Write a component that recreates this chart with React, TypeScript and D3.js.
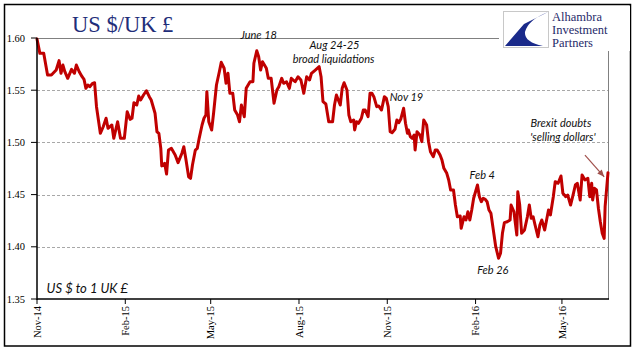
import React from "react";
import * as d3 from "d3";

const dates: string[] = [
  "2014-11-01","2014-11-04","2014-11-08","2014-11-12","2014-11-16","2014-11-21","2014-11-24","2014-11-26","2014-11-28","2014-11-30",
  "2014-12-03","2014-12-07","2014-12-10","2014-12-12","2014-12-15","2014-12-18","2014-12-20","2014-12-22","2014-12-24","2014-12-26",
  "2014-12-29","2014-12-31","2015-01-02","2015-01-04","2015-01-06","2015-01-09","2015-01-12","2015-01-14","2015-01-18","2015-01-20",
  "2015-01-24","2015-01-27","2015-01-31","2015-02-03","2015-02-06","2015-02-08","2015-02-10","2015-02-13","2015-02-15","2015-02-17",
  "2015-02-20","2015-02-23","2015-02-26","2015-02-28","2015-03-04","2015-03-06","2015-03-08","2015-03-10","2015-03-11","2015-03-14",
  "2015-03-16","2015-03-18","2015-03-21","2015-03-25","2015-03-28","2015-04-01","2015-04-03","2015-04-05","2015-04-08","2015-04-10",
  "2015-04-12","2015-04-15","2015-04-17","2015-04-19","2015-04-22","2015-04-24","2015-04-26","2015-04-27","2015-04-29","2015-05-02",
  "2015-05-04","2015-05-07","2015-05-10","2015-05-12","2015-05-15","2015-05-17","2015-05-19","2015-05-21","2015-05-24","2015-05-26",
  "2015-05-29","2015-05-31","2015-06-02","2015-06-05","2015-06-07","2015-06-11","2015-06-14","2015-06-15","2015-06-18","2015-06-20",
  "2015-06-22","2015-06-24","2015-06-28","2015-06-30","2015-07-03","2015-07-06","2015-07-09","2015-07-11","2015-07-14","2015-07-16",
  "2015-07-19","2015-07-22","2015-07-24","2015-07-28","2015-07-31","2015-08-03","2015-08-06","2015-08-09","2015-08-12","2015-08-14",
  "2015-08-18","2015-08-22","2015-08-24","2015-08-26","2015-08-29","2015-09-01","2015-09-05","2015-09-07","2015-09-09","2015-09-11",
  "2015-09-13","2015-09-15","2015-09-17","2015-09-20","2015-09-22","2015-09-24","2015-09-27","2015-09-28","2015-09-30","2015-10-02",
  "2015-10-05","2015-10-07","2015-10-09","2015-10-12","2015-10-14","2015-10-16","2015-10-18","2015-10-21","2015-10-23","2015-10-26",
  "2015-10-29","2015-10-31","2015-11-02","2015-11-04","2015-11-06","2015-11-09","2015-11-11","2015-11-13","2015-11-15","2015-11-18",
  "2015-11-20","2015-11-22","2015-11-23","2015-11-25","2015-11-27","2015-11-29","2015-11-30","2015-12-02","2015-12-05","2015-12-07",
  "2015-12-09","2015-12-12","2015-12-14","2015-12-16","2015-12-19","2015-12-21","2015-12-23","2015-12-26","2015-12-28","2015-12-30",
  "2016-01-02","2016-01-04","2016-01-06","2016-01-09","2016-01-11","2016-01-13","2016-01-16","2016-01-17","2016-01-20","2016-01-22",
  "2016-01-24","2016-01-26","2016-01-28","2016-01-30","2016-02-03","2016-02-05","2016-02-07","2016-02-09","2016-02-11","2016-02-13",
  "2016-02-15","2016-02-17","2016-02-19","2016-02-22","2016-02-25","2016-02-27","2016-02-29","2016-03-02","2016-03-05","2016-03-08",
  "2016-03-09","2016-03-12","2016-03-15","2016-03-16","2016-03-18","2016-03-20","2016-03-23","2016-03-26","2016-03-28","2016-03-30",
  "2016-04-01","2016-04-03","2016-04-06","2016-04-08","2016-04-10","2016-04-13","2016-04-15","2016-04-17","2016-04-19","2016-04-22",
  "2016-04-24","2016-04-27","2016-04-30","2016-05-02","2016-05-05","2016-05-07","2016-05-10","2016-05-13","2016-05-15","2016-05-17",
  "2016-05-20","2016-05-22","2016-05-25","2016-05-28","2016-05-30","2016-06-01","2016-06-02","2016-06-04","2016-06-06","2016-06-08",
  "2016-06-10","2016-06-12","2016-06-14","2016-06-15","2016-06-18"
];

const rates: number[] = [
  1.5990,1.5853,1.5853,1.5646,1.5646,1.5693,1.5783,1.5662,1.5741,1.5677,
  1.5614,1.5700,1.5662,1.5741,1.5677,1.5629,1.5604,1.5518,1.5550,1.5534,
  1.5566,1.5572,1.5342,1.5215,1.5087,1.5150,1.5231,1.5135,1.5167,1.5039,
  1.5198,1.5039,1.5039,1.5294,1.5221,1.5231,1.5380,1.5358,1.5444,1.5406,
  1.5454,1.5495,1.5438,1.5406,1.5279,1.5102,1.5087,1.4943,1.4774,1.4800,
  1.4697,1.4927,1.4943,1.4879,1.4806,1.4896,1.4959,1.4848,1.4671,1.4656,
  1.4784,1.4927,1.4943,1.5039,1.5167,1.5231,1.5262,1.5486,1.5198,1.5119,
  1.5279,1.5550,1.5677,1.5767,1.5710,1.5566,1.5662,1.5470,1.5470,1.5310,
  1.5262,1.5198,1.5358,1.5246,1.5518,1.5581,1.5581,1.5758,1.5878,1.5821,
  1.5693,1.5773,1.5710,1.5614,1.5614,1.5375,1.5502,1.5534,1.5614,1.5566,
  1.5581,1.5518,1.5614,1.5581,1.5629,1.5598,1.5470,1.5629,1.5598,1.5662,
  1.5693,1.5725,1.5629,1.5390,1.5368,1.5198,1.5198,1.5358,1.5454,1.5406,
  1.5358,1.5518,1.5572,1.5502,1.5262,1.5198,1.5215,1.5119,1.5198,1.5183,
  1.5231,1.5310,1.5310,1.5246,1.5470,1.5470,1.5438,1.5342,1.5349,1.5310,
  1.5438,1.5422,1.5342,1.5102,1.5093,1.5125,1.5215,1.5189,1.5221,1.5327,
  1.5183,1.5087,1.5119,1.5055,1.5039,1.5071,1.4927,1.5102,1.5071,1.5007,
  1.5215,1.5167,1.5007,1.4911,1.4863,1.4927,1.4927,1.4879,1.4831,1.4752,
  1.4704,1.4640,1.4544,1.4544,1.4400,1.4288,1.4295,1.4177,1.4288,1.4257,
  1.4336,1.4257,1.4352,1.4465,1.4592,1.4480,1.4432,1.4465,1.4455,1.4432,
  1.4352,1.4321,1.4193,1.4001,1.3890,1.3938,1.4129,1.4231,1.4240,1.4257,
  1.4400,1.4336,1.4113,1.4528,1.4400,1.4129,1.4161,1.4288,1.4400,1.4273,
  1.4288,1.4209,1.4097,1.4209,1.4257,1.4161,1.4257,1.4352,1.4305,1.4480,
  1.4624,1.4608,1.4678,1.4512,1.4480,1.4496,1.4400,1.4512,1.4592,1.4608,
  1.4448,1.4688,1.4640,1.4656,1.4480,1.4608,1.4448,1.4560,1.4544,1.4369,
  1.4240,1.4129,1.4081,1.4384,1.4710
];

const yTicks: number[] = [1.35, 1.4, 1.45, 1.5, 1.55, 1.6];
const xTickDates: string[] = ["2014-11-01", "2015-02-01", "2015-05-01", "2015-08-01", "2015-11-01", "2016-02-01", "2016-05-01"];
const xTickLabels: string[] = ["Nov-14", "Feb-15", "May-15", "Aug-15", "Nov-15", "Feb-16", "May-16"];
const xDomain: string[] = ["2014-11-01", "2016-06-18"];

const noteTexts: string[] = ["June 18", "Aug 24-25", "broad liquidations", "Nov 19", "Feb 4", "Feb 26", "Brexit doubts", "'selling dollars'"];
const noteDates: string[] = ["2015-06-20", "2015-09-07", "2015-09-06", "2015-11-21", "2016-02-08", "2016-02-19", "2016-04-30", "2016-05-02"];
const noteValues: number[] = [1.599, 1.5895, 1.5756, 1.5401, 1.4649, 1.3739, 1.5148, 1.5018];

const arrowDates: string[] = ["2016-05-25", "2016-06-14"];
const arrowValues: number[] = [1.4879, 1.467];

const unitLabel = "US $ to 1 UK £";
const unitDate = "2014-11-11";
const unitValue = 1.3557;

const title = "US $/UK £";
const logoLines: string[] = ["Alhambra", "Investment", "Partners"];

const parse = d3.timeParse("%Y-%m-%d");

export default function App() {
  const W = 641, H = 361;
  const left = 37, right = 608, top = 38, bottom = 299;

  const x = d3.scaleTime()
    .domain([parse(xDomain[0])!, parse(xDomain[1])!])
    .range([left, right]);
  const y = d3.scaleLinear().domain([1.35, 1.6]).range([bottom, top]);

  const pts: [Date, number][] = dates.map((d, i) => [parse(d)!, rates[i]]);
  const line = d3.line<[Date, number]>()
    .x(d => x(d[0]))
    .y(d => y(d[1]))
    .curve(d3.curveLinear);

  const serif = "'Liberation Serif', 'Times New Roman', serif";
  const sans = "Lato, 'Open Sans', sans-serif";
  const navy = "#1F2E7A";

  const ax0 = x(parse(arrowDates[0])!), ay0 = y(arrowValues[0]);
  const ax1 = x(parse(arrowDates[1])!), ay1 = y(arrowValues[1]);
  const ang = Math.atan2(ay1 - ay0, ax1 - ax0);
  const hl = 7, hw = 3;
  const head = [
    [ax1, ay1],
    [ax1 - hl * Math.cos(ang) + hw * Math.sin(ang), ay1 - hl * Math.sin(ang) - hw * Math.cos(ang)],
    [ax1 - hl * Math.cos(ang) - hw * Math.sin(ang), ay1 - hl * Math.sin(ang) + hw * Math.cos(ang)],
  ].map(p => p.join(",")).join(" ");

  const lx = 503, ly = 11, lw = 45, lh = 36;

  return (
    <svg width={W} height={H} style={{ position: "absolute", left: 0, top: 0 }}>
      <rect x={0} y={0} width={W} height={H} fill="#fff" />
      <rect x={4.5} y={4.5} width={626} height={341.5} fill="none" stroke="#000" strokeWidth={1.5} />

      {yTicks.filter(t => t > 1.35 && t < 1.6).map(t => (
        <line key={t} x1={left} x2={right} y1={Math.round(y(t)) + 0.5} y2={Math.round(y(t)) + 0.5}
          stroke="#A8A8A8" strokeWidth={1} strokeDasharray="3 2" />
      ))}
      <line x1={left} x2={right} y1={top + 0.5} y2={top + 0.5} stroke="#808080" strokeWidth={1} />
      <line x1={right + 0.5} x2={right + 0.5} y1={top} y2={bottom} stroke="#808080" strokeWidth={1} />

      <path d={line(pts) || ""} fill="none" stroke="#C00000" strokeWidth={3} strokeLinejoin="round" strokeLinecap="round" />

      <line x1={left} x2={left} y1={top} y2={bottom + 1} stroke="#000" strokeWidth={1.5} />
      <line x1={left} x2={right + 1} y1={bottom} y2={bottom} stroke="#000" strokeWidth={1.5} />

      {yTicks.map(t => (
        <g key={t}>
          <line x1={31} x2={left} y1={y(t)} y2={y(t)} stroke="#000" strokeWidth={1} />
          <text x={25} y={y(t)} dy="0.35em" textAnchor="end" fontFamily={serif} fontSize={10.5} fill="#000">
            {t.toFixed(2)}
          </text>
        </g>
      ))}

      {xTickDates.map((d, i) => {
        const xx = x(parse(d)!);
        return (
          <g key={d}>
            <line x1={xx} x2={xx} y1={bottom} y2={bottom + 5} stroke="#000" strokeWidth={1} />
            <text x={xx} y={bottom + 7} dy="0.35em" textAnchor="end" fontFamily={serif} fontSize={10.5} fill="#000"
              transform={`rotate(-90, ${xx}, ${bottom + 7})`}>
              {xTickLabels[i]}
            </text>
          </g>
        );
      })}

      <text x={72} y={31.5} fontFamily={serif} fontSize={22.5} fill={navy}>{title}</text>

      <rect x={499} y={6} width={131} height={45} fill="#fff" />
      <rect x={lx + 0.5} y={ly + 0.5} width={lw} height={lh} fill="#fff" stroke="#C8C8C8" strokeWidth={1} />
      <path
        d={`M ${lx + 45} ${ly + 1} L ${lx + 21} ${ly + 13} L ${lx + 2} ${ly + 35} L ${lx + 40} ${ly + 35} Q ${lx + 21} ${ly + 31} ${lx + 22} ${ly + 21} Q ${lx + 25} ${ly + 9} ${lx + 45} ${ly + 1} Z`}
        fill="#1A2A8A" />
      {logoLines.map((t, i) => (
        <text key={t} x={552} y={20.5 + i * 13} fontFamily={serif} fontSize={12.5} fill="#1F2A6A">{t}</text>
      ))}

      {noteTexts.map((t, i) => (
        <text key={t} x={x(parse(noteDates[i])!)} y={y(noteValues[i])} textAnchor="middle"
          fontFamily={sans} fontStyle="italic" fontSize={11} fill="#111">{t}</text>
      ))}

      <line x1={ax0} y1={ay0} x2={ax1} y2={ay1} stroke="#A0504C" strokeWidth={1.2} />
      <polygon points={head} fill="#A0504C" />

      <text x={x(parse(unitDate)!)} y={y(unitValue)} fontFamily={sans} fontStyle="italic" fontSize={13} fill="#111">
        {unitLabel}
      </text>
    </svg>
  );
}
